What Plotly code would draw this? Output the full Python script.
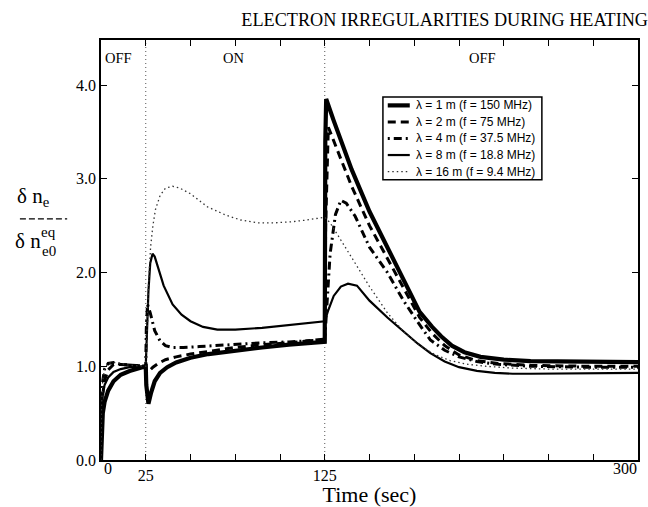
import plotly.graph_objects as go

# ---------------- data ----------------
t_1m = [0, 0.3, 1, 2, 4, 7, 11, 16, 21, 25, 25.3, 26.5, 28, 30, 33, 37, 42, 50, 60, 75, 90, 105, 125,
        125.3, 125.8, 130, 135, 140, 150, 160, 170, 178, 185, 190, 196, 203, 212, 225, 240, 270, 300]
y_1m = [0, 0.3, 0.5, 0.62, 0.74, 0.84, 0.91, 0.95, 0.98, 1.0, 0.8, 0.6, 0.72, 0.84, 0.93, 0.99, 1.04, 1.09, 1.13, 1.17, 1.2, 1.23, 1.26,
        3.4, 3.85, 3.62, 3.35, 3.1, 2.65, 2.27, 1.88, 1.58, 1.42, 1.32, 1.22, 1.15, 1.1, 1.07, 1.055, 1.045, 1.045]

t_2m = [0, 0.3, 1, 2, 4, 7, 11, 16, 25, 25.5, 27, 29, 32, 36, 42, 50, 60, 75, 90, 105, 125,
        125.5, 127, 130, 135, 140, 150, 160, 170, 178, 185, 192, 200, 210, 222, 240, 270, 300]
y_2m = [0, 0.45, 0.7, 0.85, 0.96, 1.02, 1.02, 1.01, 1.0, 0.93, 0.95, 0.99, 1.03, 1.07, 1.1, 1.13, 1.16, 1.2, 1.23, 1.25, 1.29,
        2.5, 3.55, 3.4, 3.15, 2.92, 2.5, 2.15, 1.8, 1.52, 1.35, 1.22, 1.12, 1.06, 1.03, 1.01, 1.0, 1.0]

t_4m = [0, 0.3, 1, 2, 4, 7, 11, 16, 25, 25.3, 26, 27.5, 30, 33, 36, 40, 46, 55, 70, 90, 105, 125,
        128, 131, 134, 137, 142, 150, 160, 169, 177, 184, 192, 200, 210, 222, 240, 270, 300]
y_4m = [0, 0.6, 0.85, 0.97, 1.03, 1.04, 1.02, 1.01, 1.0, 1.4, 1.66, 1.57, 1.38, 1.27, 1.22, 1.2, 1.2, 1.21, 1.23, 1.25, 1.26, 1.28,
        2.2, 2.62, 2.77, 2.74, 2.6, 2.27, 2.0, 1.7, 1.47, 1.28, 1.17, 1.1, 1.05, 1.02, 1.0, 0.99, 0.99]

t_8m = [0, 0.2, 0.5, 1, 2, 4, 7, 11, 16, 25, 25.5, 26.5, 27.5, 28.8, 30, 32, 35, 40, 45, 50, 57, 65, 75, 90, 105, 125,
        127, 130, 134, 138, 143, 150, 160, 169, 177, 184, 192, 200, 210, 220, 230, 240, 260, 280, 300]
y_8m = [0, 0.4, 0.6, 0.7, 0.8, 0.88, 0.94, 0.97, 0.99, 1.0, 1.3, 1.8, 2.1, 2.2, 2.17, 2.05, 1.86, 1.66, 1.55, 1.48, 1.42, 1.39, 1.39, 1.41, 1.44, 1.48,
        1.6, 1.75, 1.85, 1.88, 1.86, 1.7, 1.52, 1.37, 1.24, 1.14, 1.05, 0.99, 0.95, 0.93, 0.92, 0.92, 0.925, 0.93, 0.93]

t_16m = [0, 0.3, 1, 2, 4, 7, 11, 16, 25, 25.5, 26.5, 27.7, 29, 30.4, 33, 36, 40, 44, 50, 59.5, 70, 78, 87.5, 97, 106, 115, 125,
         128, 134, 141, 150, 160, 169, 178, 186, 195, 205, 215, 230, 250, 270, 300]
y_16m = [0, 0.6, 0.85, 0.97, 1.03, 1.04, 1.03, 1.01, 1.0, 1.3, 1.85, 2.27, 2.5, 2.67, 2.82, 2.9, 2.92, 2.9, 2.84, 2.70, 2.61, 2.56, 2.53, 2.53, 2.54, 2.56, 2.59,
         2.53, 2.35, 2.13, 1.85, 1.57, 1.37, 1.22, 1.13, 1.06, 1.02, 1.0, 0.98, 0.97, 0.97, 0.97]

series_names = ["λ = 1 m (f = 150 MHz)", "λ = 2 m (f = 75 MHz)", "λ = 4 m (f = 37.5 MHz)",
                "λ = 8 m (f = 18.8 MHz)", "λ = 16 m (f = 9.4 MHz)"]

phase_bounds = [25, 125]
phase_labels = ["OFF", "ON", "OFF"]
phase_label_t = [9.8, 74, 213]
phase_label_y = 4.29

x_tickvals = [0, 25, 50, 75, 100, 125, 150, 175, 200, 225, 250, 275, 300]
x_ticktext = ["", "25", "", "", "", "125", "", "", "", "", "", "", ""]
x_edge_labels = [(0, "0", "left"), (300, "300", "right")]   # end labels kept inside the frame
y_tickvals = [0, 1, 2, 3, 4]
y_ticktext = ["0.0", "1.0", "2.0", "3.0", "4.0"]

# ---------------- figure ----------------
SERIF = "Liberation Serif"
SANS = "Liberation Sans"

styles = [
    dict(color="black", width=4.2, dash="solid"),
    dict(color="black", width=3, dash="8px,5px"),
    dict(color="black", width=3, dash="2px,4px,8px,4px"),
    dict(color="black", width=2.2, dash="solid"),
    dict(color="#333333", width=1.3, dash="1.5px,3px"),
]
data = [(t_1m, y_1m), (t_2m, y_2m), (t_4m, y_4m), (t_8m, y_8m), (t_16m, y_16m)]

fig = go.Figure()
for (tx, ty), name, st in zip(data, series_names, styles):
    fig.add_trace(go.Scatter(x=tx, y=ty, mode="lines", name=name, line=st, showlegend=False))

for b in phase_bounds:
    fig.add_shape(type="line", xref="x", yref="paper", x0=b, x1=b, y0=0, y1=1,
                  line=dict(color="#555555", width=1, dash="1px,3px"), layer="below")

for lab, tt in zip(phase_labels, phase_label_t):
    fig.add_annotation(x=tt, y=phase_label_y, text=lab, showarrow=False,
                       font=dict(family=SERIF, size=14.5, color="black"))

for xv, txt, anc in x_edge_labels:
    fig.add_annotation(x=xv, xref="x", y=0, yref="paper", text=txt, showarrow=False,
                       xanchor=anc, yanchor="top", yshift=2, xshift=1,
                       font=dict(family=SERIF, size=16, color="black"))

# ---- legend box (drawn in paper coordinates) ----
LX0, LX1, LY0, LY1 = 0.525, 0.821, 0.667, 0.864
fig.add_shape(type="rect", xref="paper", yref="paper", x0=LX0, x1=LX1, y0=LY0, y1=LY1,
              line=dict(color="black", width=1.5), fillcolor="white", layer="above")
row_h = (LY1 - LY0) / len(series_names)
for i, (name, st) in enumerate(zip(series_names, styles)):
    yc = LY1 - row_h * (i + 0.5)
    fig.add_shape(type="line", xref="paper", yref="paper", x0=LX0 + 0.009, x1=LX0 + 0.05, y0=yc, y1=yc,
                  line=st, layer="above")
    fig.add_annotation(xref="paper", yref="paper", x=LX0 + 0.058, y=yc, xanchor="left", yanchor="middle",
                       text=name, showarrow=False, font=dict(family=SANS, size=12, color="black"))

# ---- y-axis label built from pieces ----
fig.add_annotation(xref="paper", yref="paper", x=-0.125, y=0.626, xanchor="center", yanchor="middle",
                   text="δ n<sub>e</sub>", showarrow=False, font=dict(family=SERIF, size=21, color="black"))
fig.add_shape(type="line", xref="paper", yref="paper", x0=-0.151, x1=-0.063, y0=0.574, y1=0.574,
              line=dict(color="black", width=1.2, dash="6px,3px"))
fig.add_annotation(xref="paper", yref="paper", x=-0.136, y=0.521, xanchor="center", yanchor="middle",
                   text="δ n", showarrow=False, font=dict(family=SERIF, size=21, color="black"))
fig.add_annotation(xref="paper", yref="paper", x=-0.097, y=0.543, xanchor="center", yanchor="middle",
                   text="eq", showarrow=False, font=dict(family=SERIF, size=15, color="black"))
fig.add_annotation(xref="paper", yref="paper", x=-0.097, y=0.497, xanchor="center", yanchor="middle",
                   text="e0", showarrow=False, font=dict(family=SERIF, size=15, color="black"))

fig.update_layout(
    width=648, height=507, autosize=False,
    margin=dict(l=101, r=10, t=40, b=47),
    paper_bgcolor="white", plot_bgcolor="white",
    title=dict(text="ELECTRON IRREGULARITIES DURING HEATING", x=1.0, xanchor="right",
               y=0.962, yanchor="middle", font=dict(family=SERIF, size=18.2, color="black")),
    xaxis=dict(range=[0, 300], tickvals=x_tickvals, ticktext=x_ticktext, ticks="inside",
               ticklen=6, tickwidth=1.2, tickcolor="black", showline=True, linecolor="black",
               linewidth=1.8, mirror="ticks", showgrid=False, zeroline=False, automargin=False,
               tickfont=dict(family=SERIF, size=16, color="black"),
               title=dict(text="Time (sec)", font=dict(family=SERIF, size=22, color="black"), standoff=0)),
    yaxis=dict(range=[0, 4.48], tickvals=y_tickvals, ticktext=y_ticktext, ticks="inside",
               ticklen=6, tickwidth=1.2, tickcolor="black", showline=True, linecolor="black",
               linewidth=1.8, mirror="ticks", showgrid=False, zeroline=False, automargin=False,
               tickfont=dict(family=SERIF, size=16, color="black")),
    showlegend=False,
)

fig.write_html(
    "out.html",
    config={"displayModeBar": False, "responsive": False},
    post_script="document.body.style.margin='0';document.body.style.overflow='hidden';",
)
